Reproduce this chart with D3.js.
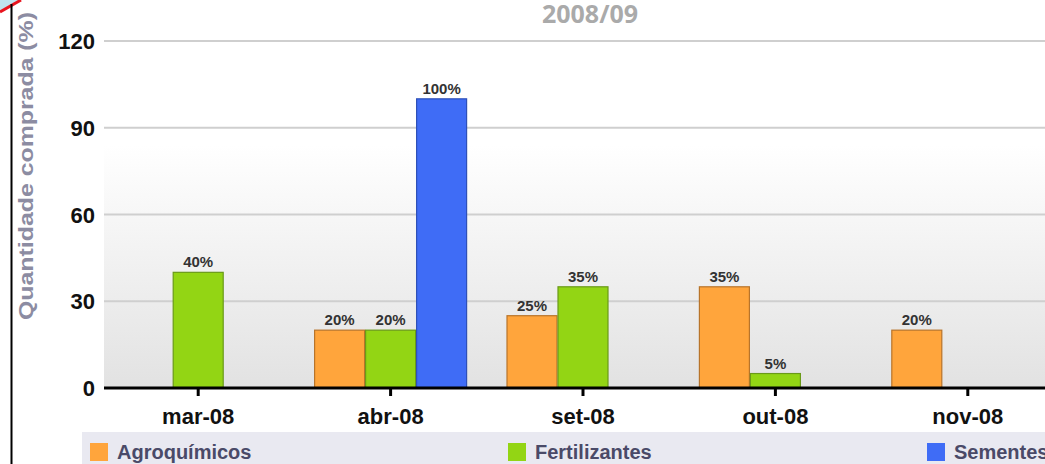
<!DOCTYPE html>
<html><head><meta charset="utf-8">
<script src="https://cdn.jsdelivr.net/npm/d3@7"></script>
<style>html,body{margin:0;padding:0;background:#fff;overflow:hidden}</style>
</head><body>
<svg id="c" width="1045" height="464"></svg>
<script>
const categories = ["mar-08", "abr-08", "set-08", "out-08", "nov-08"];
const seriesNames = ["Agroquímicos", "Fertilizantes", "Sementes"];
const agroquimicos = [0, 20, 25, 35, 20];
const fertilizantes = [40, 20, 35, 5, 0];
const sementes = [0, 100, 0, 0, 0];
const yTicks = [0, 30, 60, 90, 120];
const title = "2008/09";
const yTitle = "Quantidade comprada (%)";

const colors = ["#ffa53c", "#93d514", "#3f6cf6"];
const strokes = ["#b8742a", "#6a9a18", "#2e50b8"];
const seriesVals = [agroquimicos, fertilizantes, sementes];

const svg = d3.select("#c");
const plotL = 104, plotR = 1064, plotT = 41, plotB = 388;

const defs = svg.append("defs");
const bg = defs.append("linearGradient").attr("id","bg").attr("x1",0).attr("x2",0).attr("y1",0).attr("y2",1);
bg.append("stop").attr("offset","0%").attr("stop-color","#ffffff");
bg.append("stop").attr("offset","30%").attr("stop-color","#ffffff");
bg.append("stop").attr("offset","100%").attr("stop-color","#e2e2e2");

const x = d3.scaleBand().domain(categories).range([102, 1064]);
const barW = 51;
const xs = d3.scaleBand().domain(seriesNames)
  .range([x.bandwidth() / 2 - 1.5 * barW, x.bandwidth() / 2 + 1.5 * barW]);
const y = d3.scaleLinear().domain([0, 120]).range([plotB, plotT]);

// background
svg.append("rect").attr("x", plotL).attr("y", y(120)).attr("width", plotR - plotL).attr("height", plotB - y(120)).attr("fill", "url(#bg)");

// gridlines
svg.append("g").selectAll("line").data(yTicks.filter(d => d > 0)).join("line")
  .attr("x1", plotL).attr("x2", 1045).attr("y1", d => y(d)).attr("y2", d => y(d))
  .attr("stroke", "#cfcfcf").attr("stroke-width", 2);

// y tick labels
svg.append("g").selectAll("text").data(yTicks).join("text")
  .attr("x", 95).attr("y", d => y(d) + 8).attr("text-anchor", "end")
  .attr("font-family", "Liberation Sans, Arial, sans-serif").attr("font-weight", "bold")
  .attr("font-size", 22).attr("fill", "#111").text(d => d);

// bars
const barData = [];
categories.forEach((c, i) => {
  seriesVals.forEach((s, k) => {
    barData.push({c, k, v: s[i], x0: x(c) + xs(seriesNames[k])});
  });
});
const shown = barData.filter(d => d.v > 0);
const bars = svg.append("g");
bars.selectAll("rect").data(shown).join("rect")
  .attr("x", d => d.x0 + 0.5).attr("y", d => y(d.v)).attr("width", xs.bandwidth() - 1)
  .attr("height", d => plotB - y(d.v))
  .attr("fill", d => colors[d.k]).attr("stroke", d => strokes[d.k]).attr("stroke-width", 1.2);
bars.selectAll("text").data(shown).join("text")
  .attr("x", d => d.x0 + xs.bandwidth() / 2).attr("y", d => y(d.v) - 5).attr("text-anchor", "middle")
  .attr("font-family", "Liberation Sans, Arial, sans-serif").attr("font-weight", "bold")
  .attr("font-size", 15).attr("fill", "#333").text(d => d.v + "%");

// x axis
const xAxis = svg.append("g").attr("transform", `translate(0,${plotB})`)
  .call(d3.axisBottom(x).tickSize(8).tickSizeOuter(0).tickPadding(12));
xAxis.select(".domain").attr("d", `M${plotL},0H1064`).attr("stroke", "#000").attr("stroke-width", 3);
xAxis.selectAll(".tick line").attr("stroke", "#000").attr("stroke-width", 3);
xAxis.selectAll(".tick text").attr("font-family", "Liberation Sans, Arial, sans-serif")
  .attr("font-weight", "bold").attr("font-size", 22).attr("fill", "#111");

// title
svg.append("text").attr("x", 590).attr("y", 23).attr("text-anchor", "middle")
  .attr("font-family", "Open Sans, sans-serif").attr("font-weight", "bold")
  .attr("font-size", 25).attr("fill", "#aaaaaa").text(title);

// y title
svg.append("text").attr("transform", "translate(33,166) rotate(-90)").attr("text-anchor", "middle")
  .attr("font-family", "Liberation Sans, Arial, sans-serif").attr("font-weight", "bold")
  .attr("font-size", 21).attr("fill", "#8c8ca2")
  .attr("textLength", 308).attr("lengthAdjust", "spacingAndGlyphs").text(yTitle);

// legend
svg.append("rect").attr("x", 82).attr("y", 432).attr("width", 1045 - 82).attr("height", 32).attr("fill", "#e9e9f1");
const legX = [90, 508, 927];
const leg = svg.append("g").selectAll("g").data(seriesNames).join("g")
  .attr("transform", (d, i) => `translate(${legX[i]},443)`);
leg.append("rect").attr("width", 18).attr("height", 18).attr("fill", (d, i) => colors[i]);
leg.append("text").attr("x", 27).attr("y", 16)
  .attr("font-family", "Liberation Sans, Arial, sans-serif").attr("font-weight", "bold")
  .attr("font-size", 20).attr("fill", "#4a4a68").text(d => d);

// left border and corner mark
svg.append("path").attr("d", "M0,0H19L0,11Z").attr("fill", "#bfe3ef");
svg.append("line").attr("x1", 0).attr("y1", 12).attr("x2", 21).attr("y2", 0).attr("stroke", "#e8141e").attr("stroke-width", 3);
svg.append("line").attr("x1", 11.5).attr("x2", 11.5).attr("y1", 4).attr("y2", 464).attr("stroke", "#000").attr("stroke-width", 2);
</script>
</body></html>
